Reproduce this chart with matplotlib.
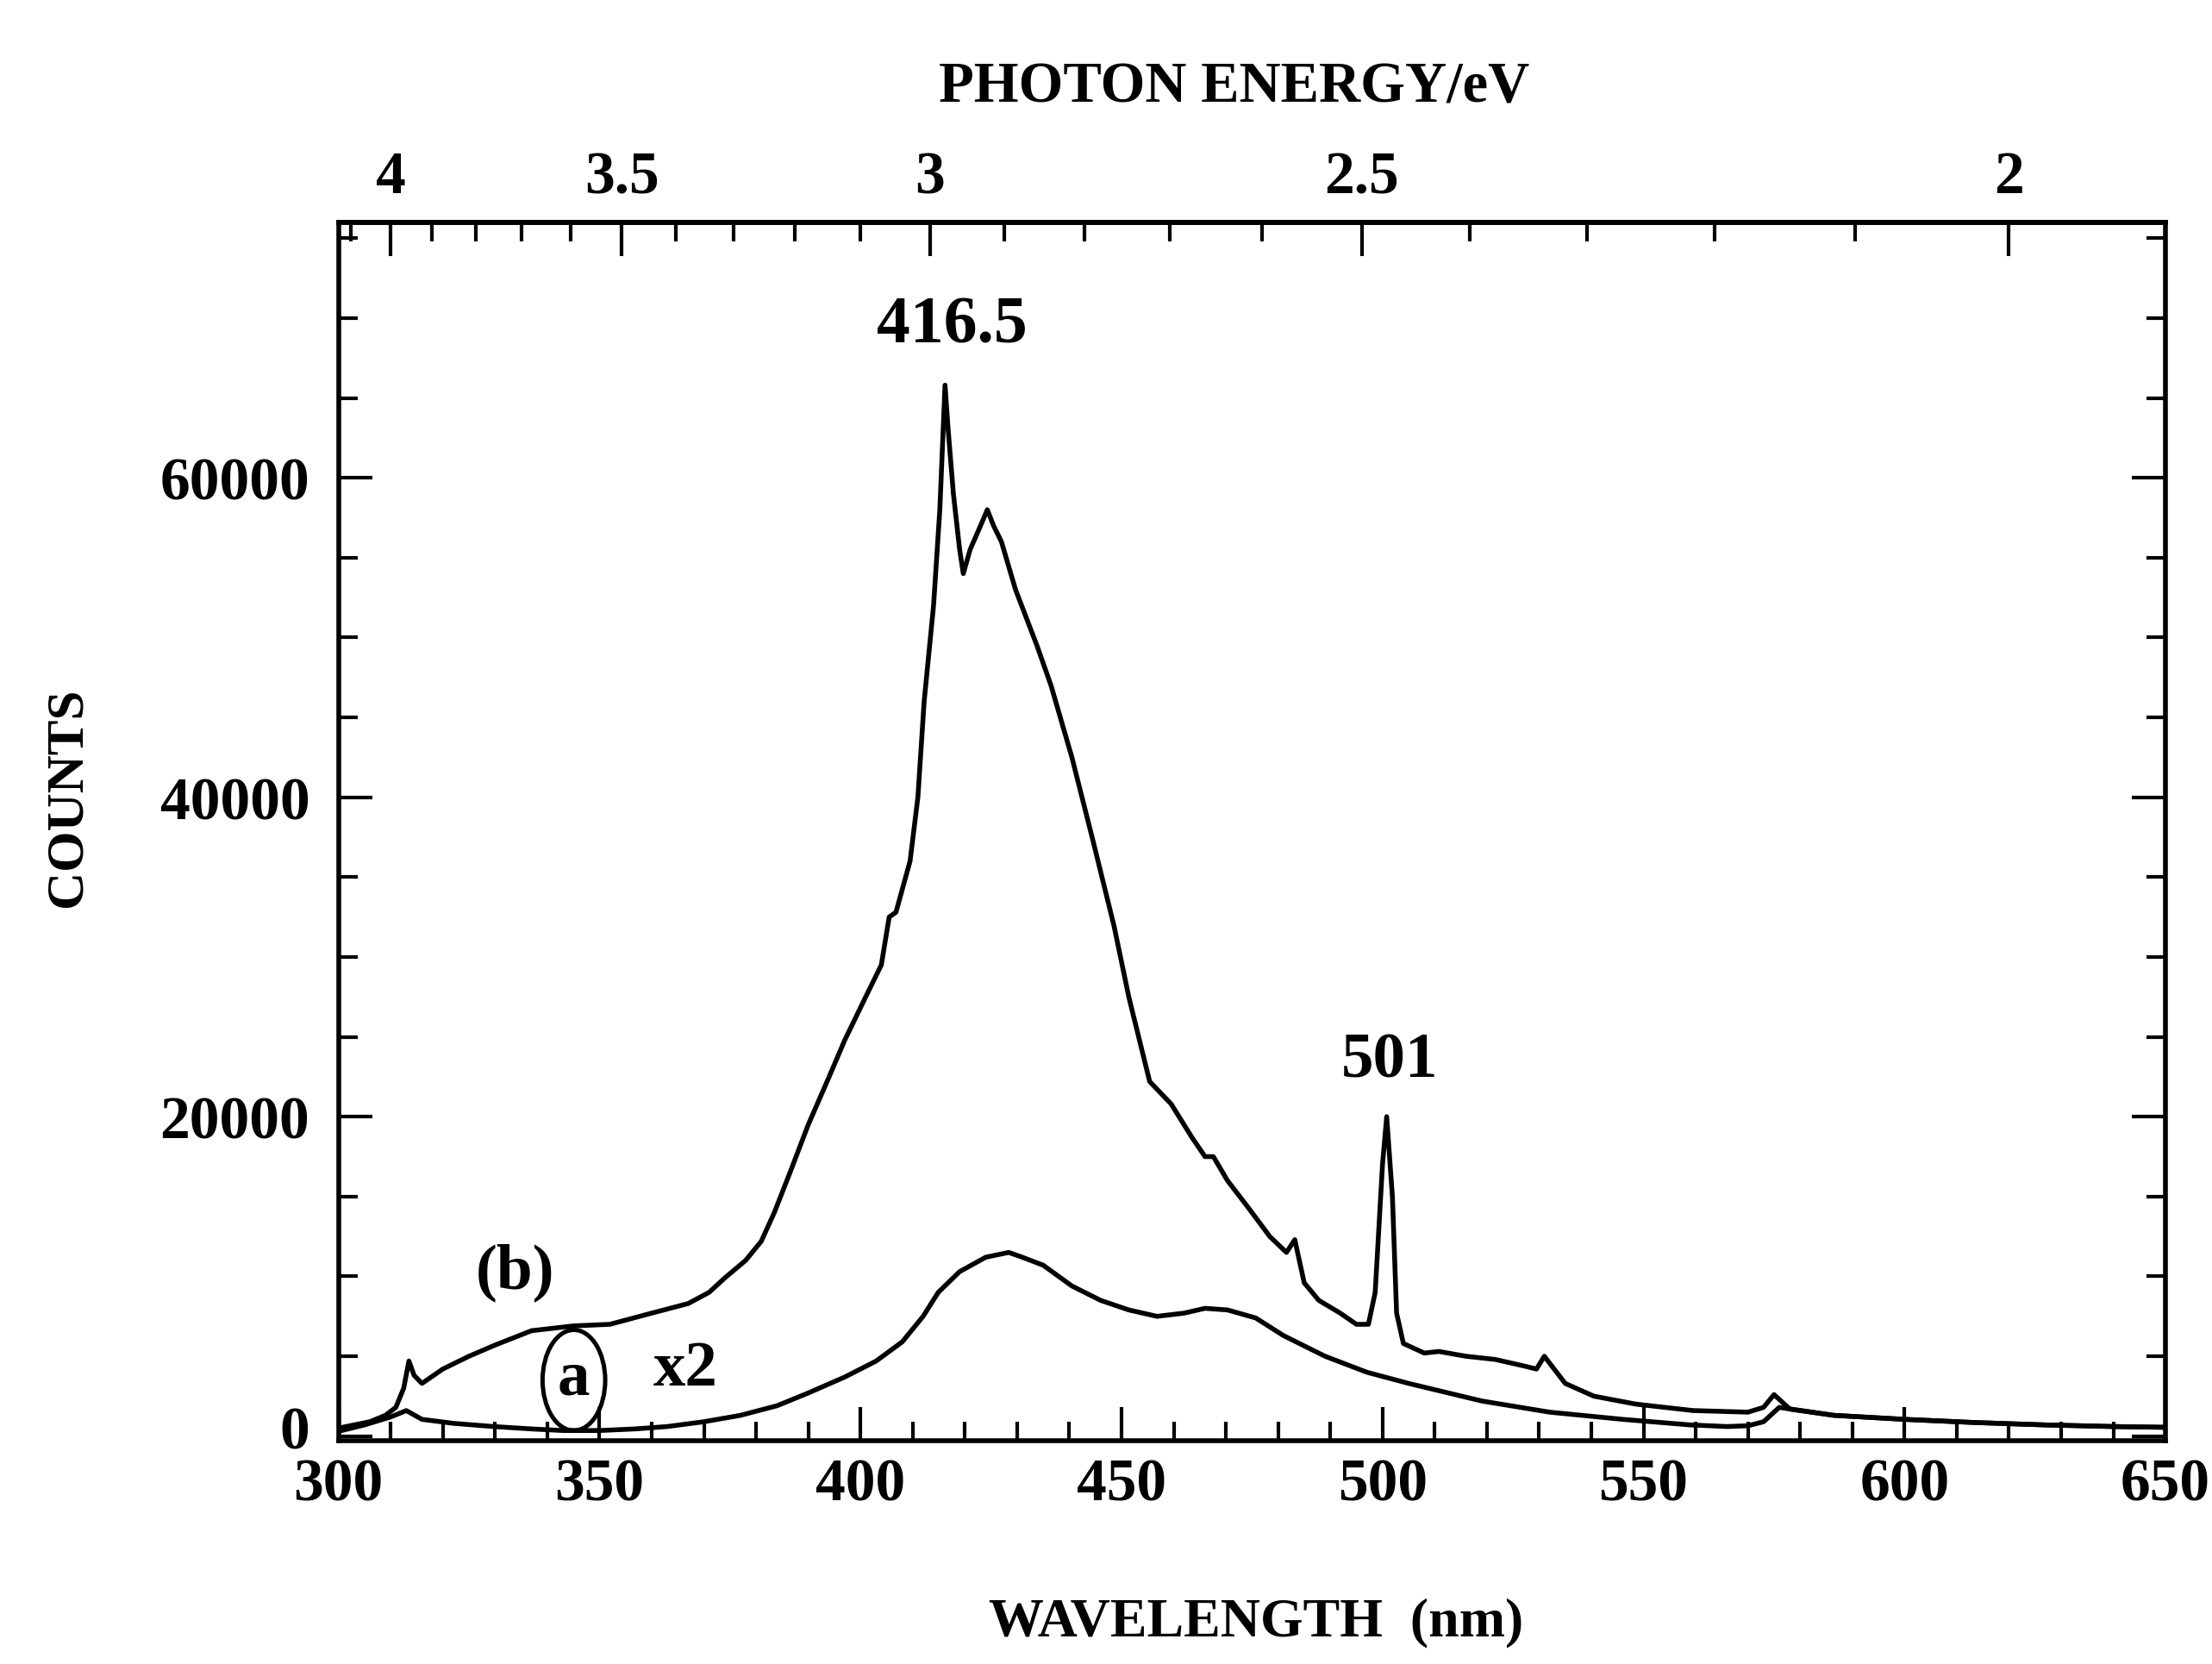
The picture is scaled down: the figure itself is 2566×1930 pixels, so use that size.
import numpy as np
import matplotlib
matplotlib.use("Agg")
import matplotlib.pyplot as plt
from matplotlib.patches import Ellipse
from matplotlib.ticker import MultipleLocator, FixedLocator

# ---- data ----
b_wl = [300, 303, 306, 309, 311, 312.5, 313.5, 314.5, 316, 320, 325, 330, 337, 345, 352, 360,
        367, 371, 374, 378, 381, 383.5, 386.5, 390, 394, 397, 401, 404, 405.5, 406.8, 409.5, 411,
        412.2, 414, 415.2, 416.2, 416.8, 417.8, 419, 419.7, 421, 423, 424.3, 425.5, 427, 429.7,
        433.8, 436.5, 440.5, 444.6, 448.6, 451.4, 455.4, 459.5, 463.5, 466, 467.6, 470.3, 474.3,
        478.4, 481.6, 483.2, 485, 487.8, 491.9, 495, 497.3, 498.6, 500, 500.8, 501.9, 502.7, 504,
        508, 510.8, 516, 521.6, 527, 529.5, 531, 535, 540.5, 548.6, 559.5, 570, 573, 575,
        578, 586.5, 600, 613.5, 627, 640, 650]
b_ct = [500, 700, 900, 1300, 1800, 3000, 4700, 3800, 3300, 4200, 5000, 5700, 6600, 6900, 7000, 7700,
        8300, 9000, 9900, 11000, 12200, 14000, 16500, 19500, 22500, 24800, 27500, 29500, 32500,
        32800, 36000, 40000, 46000, 52000, 58000, 65800, 63000, 59000, 55500, 54000, 55500, 57000,
        58000, 57000, 56000, 53000, 49500, 47000, 42500, 37200, 31900, 27500, 22200, 20800, 18700,
        17500, 17500, 16000, 14300, 12500, 11500, 12300, 9600, 8500, 7700, 7000, 7000, 9000, 17000,
        20000, 15000, 7700, 5800, 5200, 5300, 5000, 4800, 4400, 4200, 5000, 3300, 2500, 2000, 1600,
        1500, 1800, 2600, 1700, 1300, 1050, 850, 700, 600, 550]

a_wl = [300, 305, 310, 313, 316, 322, 329.7, 337, 343, 350, 356.8, 363, 370, 377, 384, 390, 397,
        403, 408, 412, 414.9, 419, 424, 428.4, 431, 435, 440.5, 446, 451.4, 456.8, 462, 466,
        470.3, 475.7, 481, 489, 497, 505, 519, 532, 546, 559, 566, 570, 573, 576, 580, 586.5,
        600, 613.5, 627, 640, 650]
a_ct = [300, 700, 1200, 1600, 1050, 800, 600, 450, 350, 350, 450, 600, 900, 1300, 1900, 2700, 3700,
        4700, 5900, 7500, 9000, 10300, 11200, 11500, 11200, 10700, 9400, 8500, 7900, 7500, 7700,
        8000, 7900, 7400, 6300, 5000, 4000, 3300, 2200, 1500, 1050, 700, 600, 650, 900, 1800,
        1600, 1300, 1050, 850, 700, 600, 550]

x_major = [300, 350, 400, 450, 500, 550, 600, 650]
y_major = [0, 20000, 40000, 60000]
e_major = [4, 3.5, 3, 2.5, 2]
e_labels = ["4", "3.5", "3", "2.5", "2"]

FONT = dict(family="Liberation Serif", fontweight="bold")

fig = plt.figure(figsize=(12.83, 9.655), dpi=200)
ax = fig.add_axes([0.153, 0.134, 0.826, 0.732])

ax.plot(b_wl, b_ct, color="black", lw=2.0)
ax.plot(a_wl, a_ct, color="black", lw=2.0)

ax.set_xlim(300, 650)
ax.set_ylim(-300, 76000)

ax.xaxis.set_major_locator(FixedLocator(x_major))
ax.xaxis.set_minor_locator(MultipleLocator(10))
ax.yaxis.set_major_locator(FixedLocator(y_major))
ax.yaxis.set_minor_locator(MultipleLocator(5000))
ax.set_xticklabels([str(v) for v in x_major], **FONT, fontsize=25)
ax.set_yticklabels([str(v) for v in y_major], **FONT, fontsize=25)

ax.tick_params(which="both", direction="in", top=False, right=True, width=1.5)
ax.tick_params(which="major", length=14)
ax.tick_params(which="minor", length=8)
ax.tick_params(axis="x", which="major", pad=7)
ax.tick_params(axis="y", which="major", pad=12)
for s in ax.spines.values():
    s.set_linewidth(2.0)

# nudge the "0" label up a little, as in the reference
import matplotlib.transforms as mtransforms
zero_lbl = ax.get_yticklabels()[0]
zero_lbl.set_transform(zero_lbl.get_transform() +
                       mtransforms.ScaledTranslation(0, 4 / 72, fig.dpi_scale_trans))


def wl2e(x):
    x = np.array(x, dtype=float)
    with np.errstate(divide="ignore", invalid="ignore"):
        return np.where(x == 0, np.inf, 1240.0 / x)


sec = ax.secondary_xaxis("top", functions=(wl2e, wl2e))
sec.xaxis.set_major_locator(FixedLocator(e_major))
sec.xaxis.set_minor_locator(MultipleLocator(0.1))
sec.set_xticklabels(e_labels, **FONT, fontsize=25)
sec.tick_params(which="both", direction="in", width=1.5)
sec.tick_params(which="major", length=14, pad=7)
sec.tick_params(which="minor", length=8)
sec.spines["top"].set_linewidth(2.0)

ax.set_xlabel("WAVELENGTH  (nm)", **FONT, fontsize=23)
ax.xaxis.set_label_coords(0.502, -0.128)
ax.set_ylabel("COUNTS", **FONT, fontsize=22)
ax.yaxis.set_label_coords(-0.135, 0.529)
ax.text(0.49, 1.111, "PHOTON ENERGY/eV", transform=ax.transAxes, ha="center", va="center",
        **FONT, fontsize=24)

ax.text(417.6, 69500, "416.5", ha="center", va="center", **FONT, fontsize=28)
ax.text(501.4, 23500, "501", ha="center", va="center", **FONT, fontsize=27)
ax.text(333.8, 10300, "(b)", ha="center", va="center", **FONT, fontsize=27)
ax.text(345.1, 3600, "a", ha="center", va="center", **FONT, fontsize=27)
ax.add_patch(Ellipse((345.1, 3500), 12, 6300, fill=False, edgecolor="black", lw=1.8))
ax.text(366.5, 4200, "x2", ha="center", va="center", **FONT, fontsize=27)

fig.savefig("out.png", dpi=200, facecolor="white")
